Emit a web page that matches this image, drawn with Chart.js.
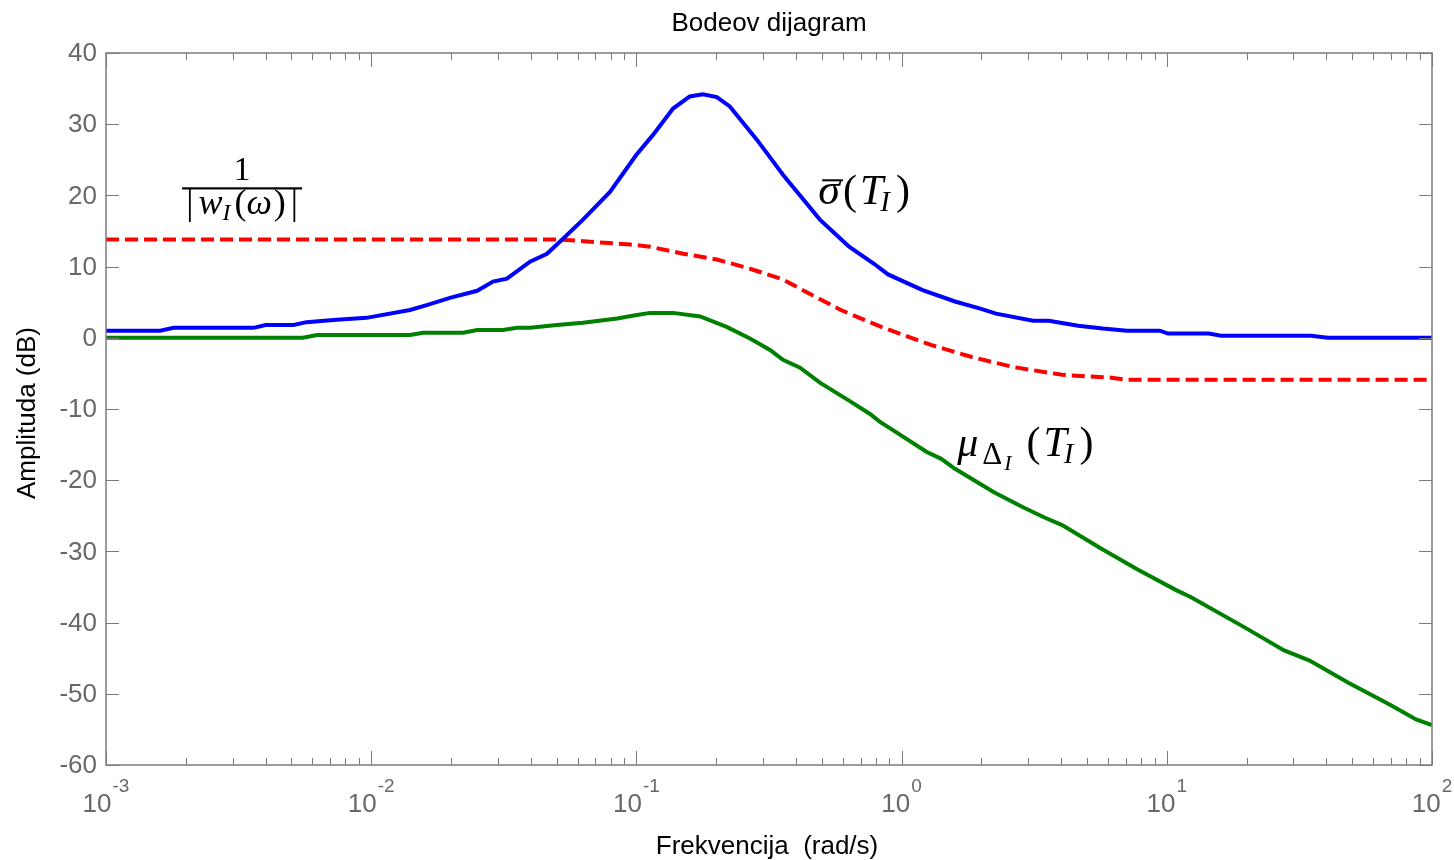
<!DOCTYPE html>
<html>
<head>
<meta charset="utf-8">
<script src="https://cdn.jsdelivr.net/npm/chart.js@4.4.1/dist/chart.umd.min.js"></script>
<style>
    html, body { margin: 0; background: #fff; }
    #wrap { width: 1454px; height: 860px; position: relative; }
</style>
</head>
<body>
<div id="wrap"><canvas id="bode"></canvas></div>
<script>
// sigma_bar(T_I) - blue
const sigmaW  = [0.001, 0.0016, 0.0018, 0.0036, 0.004, 0.0051, 0.0057, 0.0072, 0.0096, 0.014,
                 0.0162, 0.0198, 0.0251, 0.0288, 0.0325, 0.0397, 0.046, 0.0529, 0.0629, 0.0795,
                 0.1, 0.1155, 0.1375, 0.159, 0.178, 0.201, 0.225, 0.285, 0.357, 0.492,
                 0.551, 0.634, 0.787, 0.889, 1.2, 1.59, 1.98, 2.27, 3.13, 3.59,
                 4.63, 5.74, 7.08, 9.42, 10.1, 14.4, 16.0, 35.0, 40.5, 100];
const sigmaDb = [1.0, 1.0, 1.4, 1.4, 1.8, 1.8, 2.2, 2.5, 2.8, 3.9,
                 4.6, 5.6, 6.6, 7.9, 8.3, 10.7, 11.8, 13.9, 16.6, 20.5,
                 25.7, 28.5, 32.2, 33.9, 34.2, 33.8, 32.5, 27.8, 22.9, 16.6,
                 14.9, 12.8, 10.4, 8.9, 6.7, 5.1, 4.1, 3.4, 2.4, 2.4,
                 1.7, 1.3, 1.0, 1.0, 0.6, 0.6, 0.3, 0.3, 0.0, 0.0];

// 1/|w_I| - red dashed
const weightW  = [0.001, 0.0515, 0.0668, 0.0946, 0.1125, 0.15, 0.201, 0.268, 0.357, 0.414,
                  0.59, 0.843, 1.29, 1.84, 2.63, 4.03, 6.17, 7.08, 100];
const weightDb = [13.8, 13.8, 13.5, 13.1, 12.8, 11.8, 11.0, 9.7, 8.2, 6.9,
                  3.9, 1.5, -1.0, -2.7, -4.1, -5.2, -5.6, -5.9, -5.9];

// mu_{Delta_I}(T_I) - green
const muW  = [0.001, 0.00553, 0.00625, 0.014, 0.0157, 0.0222, 0.0251, 0.0314, 0.0355, 0.0397,
              0.0502, 0.0629, 0.0846, 0.1004, 0.1125, 0.1375, 0.174, 0.22, 0.268, 0.319,
              0.357, 0.414, 0.492, 0.638, 0.76, 0.829, 0.912, 1.24, 1.41, 1.59,
              2.23, 2.87, 3.44, 4.03, 5.65, 7.73, 10.8, 12.3, 19.5, 27.7,
              34.4, 48.2, 70.0, 87.1, 100];
const muDb = [0, 0, 0.4, 0.4, 0.7, 0.7, 1.1, 1.1, 1.4, 1.4,
              1.8, 2.1, 2.7, 3.2, 3.5, 3.5, 3.0, 1.5, -0.1, -1.7,
              -3.1, -4.2, -6.3, -8.9, -10.7, -11.8, -12.8, -16.0, -17.0, -18.4,
              -21.7, -23.8, -25.2, -26.3, -29.6, -32.5, -35.4, -36.4, -40.6, -43.9,
              -45.3, -48.4, -51.6, -53.6, -54.4];

const xDecades = [-3, -2, -1, 0, 1, 2];
const xMinor = [2, 3, 4, 5, 6, 7, 8, 9];
const yTicks = [40, 30, 20, 10, 0, -10, -20, -30, -40, -50, -60];

const titleText = 'Bodeov dijagram';
const xTitle = 'Frekvencija  (rad/s)';
const yTitle = 'Amplituda (dB)';

const AXIS = '#7b7b7b';
const TICK_TXT = '#686868';
const SANS = '"Liberation Sans", Arial, sans-serif';
const SERIF = '"Liberation Serif", "Times New Roman", serif';

const zip = (w, d) => w.map((v, i) => ({ x: v, y: d[i] }));

// draw a run of math pieces, returns end x
function mathRun(ctx, x, y, parts, measureOnly) {
    parts.forEach(p => {
        ctx.font = (p.it ? 'italic ' : '') + p.s + 'px ' + SERIF;
        x += (p.pre || 0);
        const w = ctx.measureText(p.t).width;
        if (!measureOnly) {
            ctx.fillText(p.t, x, y + (p.dy || 0));
            if (p.bar) ctx.fillRect(x + 4, y - p.s * 0.56, w - 1, 2);
        }
        x += w + (p.post || 0);
    });
    return x;
}

const sigmaParts = [
    { t: 'σ', it: true, s: 44, bar: true, post: 3 },
    { t: '(', s: 42, post: 3 },
    { t: 'T', it: true, s: 42, post: -3 },
    { t: 'I', it: true, s: 29, dy: 7, post: 6 },
    { t: ')', s: 42 }
];
const muParts = [
    { t: 'μ', it: true, s: 42, post: 4 },
    { t: 'Δ', s: 31, dy: 8, post: 2 },
    { t: 'I', it: true, s: 22, dy: 14, post: 15 },
    { t: '(', s: 42, post: 3 },
    { t: 'T', it: true, s: 42, post: -3 },
    { t: 'I', it: true, s: 29, dy: 7, post: 6 },
    { t: ')', s: 42 }
];
const denParts = [
    { t: '|', s: 36, post: 5 },
    { t: 'w', it: true, s: 36 },
    { t: 'I', it: true, s: 24, dy: 6, post: 4 },
    { t: '(', s: 36 },
    { t: 'ω', it: true, s: 36, post: 2 },
    { t: ')', s: 36, post: 5 },
    { t: '|', s: 36 }
];

const axesPlugin = {
    id: 'matlabAxes',
    afterDatasetsDraw(chart) {
        const { ctx, chartArea: a, scales: { x, y } } = chart;
        ctx.save();

        // box + ticks
        ctx.strokeStyle = AXIS;
        ctx.lineWidth = 1.5;
        ctx.strokeRect(a.left, a.top, a.right - a.left, a.bottom - a.top);
        ctx.beginPath();
        ctx.lineWidth = 1;
        yTicks.forEach(v => {
            const py = Math.round(y.getPixelForValue(v)) + 0.5;
            ctx.moveTo(a.left, py); ctx.lineTo(a.left + 13, py);
            ctx.moveTo(a.right, py); ctx.lineTo(a.right - 13, py);
        });
        xDecades.forEach(d => {
            const px = Math.round(x.getPixelForValue(Math.pow(10, d))) + 0.5;
            ctx.moveTo(px, a.bottom); ctx.lineTo(px, a.bottom - 14);
            ctx.moveTo(px, a.top); ctx.lineTo(px, a.top + 14);
            if (d < 2) {
                xMinor.forEach(m => {
                    const pm = Math.round(x.getPixelForValue(m * Math.pow(10, d))) + 0.5;
                    ctx.moveTo(pm, a.bottom); ctx.lineTo(pm, a.bottom - 7);
                    ctx.moveTo(pm, a.top); ctx.lineTo(pm, a.top + 7);
                });
            }
        });
        ctx.stroke();

        // y tick labels
        ctx.fillStyle = TICK_TXT;
        ctx.font = '26px ' + SANS;
        ctx.textAlign = 'right';
        ctx.textBaseline = 'middle';
        yTicks.forEach(v => ctx.fillText(String(v), a.left - 9, y.getPixelForValue(v) + 1));

        // x tick labels 10^n
        ctx.textAlign = 'left';
        ctx.textBaseline = 'alphabetic';
        xDecades.forEach(d => {
            const px = x.getPixelForValue(Math.pow(10, d));
            ctx.font = '26px ' + SANS;
            const wb = ctx.measureText('10').width;
            ctx.font = '19px ' + SANS;
            const we = ctx.measureText(String(d)).width;
            const x0 = px - (wb + 1 + we) / 2;
            ctx.font = '26px ' + SANS;
            ctx.fillText('10', x0, a.bottom + 47);
            ctx.font = '19px ' + SANS;
            ctx.fillText(String(d), x0 + wb + 1, a.bottom + 27);
        });

        // titles
        ctx.fillStyle = '#000';
        ctx.font = '26px ' + SANS;
        ctx.textAlign = 'center';
        ctx.fillText(titleText, (a.left + a.right) / 2, 31);
        ctx.textBaseline = 'middle';
        ctx.fillText(xTitle, (a.left + a.right) / 2 - 2, a.bottom + 82);
        ctx.save();
        ctx.translate(28, (a.top + a.bottom) / 2 + 4);
        ctx.rotate(-Math.PI / 2);
        ctx.fillText(yTitle, 0, 0);
        ctx.restore();

        // math labels
        ctx.textAlign = 'left';
        ctx.textBaseline = 'alphabetic';
        ctx.fillStyle = '#000';

        // 1/|w_I(w)|
        const fx = x.getPixelForValue(3.26e-3), fy = y.getPixelForValue(21.0);
        ctx.fillRect(fx - 60, fy - 1, 120, 2.2);
        ctx.font = '34px ' + SERIF;
        ctx.textAlign = 'center';
        ctx.fillText('1', fx, fy - 8);
        ctx.textAlign = 'left';
        const dw = mathRun(ctx, 0, 0, denParts, true);
        mathRun(ctx, fx - dw / 2, fy + 26, denParts);

        // sigma_bar(T_I)
        mathRun(ctx, x.getPixelForValue(0.485), y.getPixelForValue(18.8), sigmaParts);
        // mu_Delta_I(T_I)
        mathRun(ctx, x.getPixelForValue(1.62), y.getPixelForValue(-16.6), muParts);

        ctx.restore();
    }
};

new Chart(document.getElementById('bode').getContext('2d'), {
    type: 'line',
    data: {
        datasets: [{
            label: 'sigma',
            data: zip(sigmaW, sigmaDb),
            borderColor: '#0000ff',
            borderWidth: 4,
            pointRadius: 0,
            fill: false,
            tension: 0,
            order: 0
        }, {
            label: 'mu',
            data: zip(muW, muDb),
            borderColor: '#008000',
            borderWidth: 4,
            pointRadius: 0,
            fill: false,
            tension: 0,
            order: 1
        }, {
            label: '1/|wI|',
            data: zip(weightW, weightDb),
            borderColor: '#ff0000',
            borderWidth: 4,
            borderDash: [13, 6],
            pointRadius: 0,
            fill: false,
            tension: 0,
            order: 2
        }]
    },
    options: {
        responsive: true,
        maintainAspectRatio: false,
        animation: false,
        layout: { padding: { left: 106, right: 22, top: 53, bottom: 95 } },
        plugins: { legend: { display: false }, title: { display: false }, tooltip: { enabled: false } },
        scales: {
            x: { type: 'logarithmic', min: 0.001, max: 100, display: false },
            y: { type: 'linear', min: -60, max: 40, display: false }
        }
    },
    plugins: [axesPlugin]
});
</script>
</body>
</html>
